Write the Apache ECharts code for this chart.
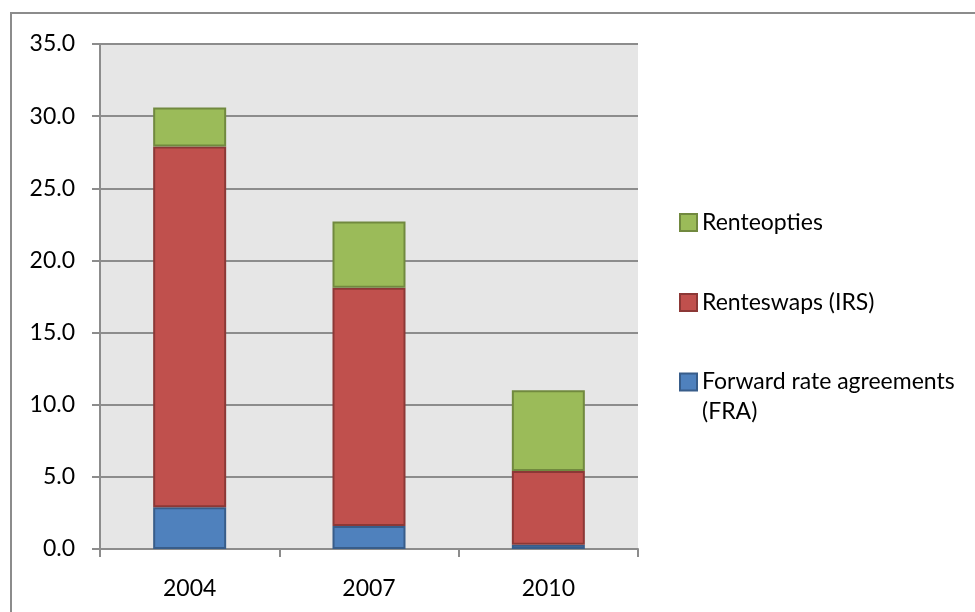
<!DOCTYPE html>
<html>
<head>
<meta charset="utf-8">
<script src="https://cdn.jsdelivr.net/npm/echarts@6/dist/echarts.min.js"></script>
<style>html,body{margin:0;padding:0;background:#fff}#c{width:975px;height:612px}</style>
</head>
<body>
<div id="c"></div>
<script>
const categories = ['2004', '2007', '2010'];
const fraValues = [2.9, 1.6, 0.3];
const irsValues = [25.0, 16.5, 5.1];
const optiesValues = [2.7, 4.6, 5.6];
const seriesNames = ['Forward rate agreements (FRA)', 'Renteswaps (IRS)', 'Renteopties'];
const yTicks = { min: 0, max: 35, interval: 5 };

const FONT = 'Lato';
const chart = echarts.init(document.getElementById('c'), null, { renderer: 'canvas' });
const legendText = { fontFamily: FONT, fontSize: 23, color: '#000' };
function legendItem(name, top, extra) {
  return Object.assign({
    orient: 'vertical', left: 674, top: top, itemWidth: 17, itemHeight: 17, itemGap: 4,
    icon: 'rect', selectedMode: false, data: [name],
    textStyle: Object.assign({}, legendText)
  }, extra || {});
}
const option = {
  animation: false,
  backgroundColor: '#fff',
  graphic: [{
    type: 'rect', silent: true, z: -1,
    shape: { x: 11, y: 13, width: 1100, height: 800 },
    style: { fill: 'none', stroke: '#8c8c8c', lineWidth: 2 }
  }],
  grid: { left: 100, right: 337, top: 44, bottom: 63, show: true, backgroundColor: '#e6e6e6', borderWidth: 0 },
  legend: [
    legendItem(seriesNames[2], 206),
    legendItem(seriesNames[1], 286),
    legendItem(seriesNames[0], 332, {
      formatter: function () { return ' \nForward rate agreements\n(FRA)'; },
      textStyle: Object.assign({}, legendText, { lineHeight: 30 })
    })
  ],
  xAxis: {
    type: 'category', data: categories,
    axisLine: { lineStyle: { color: '#8c8c8c', width: 2 } },
    axisTick: { show: true, length: 8, lineStyle: { color: '#8c8c8c', width: 2 } },
    axisLabel: { fontFamily: FONT, fontSize: 23, color: '#000', margin: 28 }
  },
  yAxis: {
    type: 'value', min: yTicks.min, max: yTicks.max, interval: yTicks.interval,
    axisLine: { show: true, lineStyle: { color: '#8c8c8c', width: 2 } },
    axisTick: { show: true, length: 8, lineStyle: { color: '#8c8c8c', width: 2 } },
    splitLine: { lineStyle: { color: '#8c8c8c', width: 2 } },
    axisLabel: { fontFamily: FONT, fontSize: 23, color: '#000', margin: 25, formatter: v => v.toFixed(1) }
  },
  series: [
    { name: seriesNames[0], type: 'bar', stack: 't', data: fraValues, barWidth: 73,
      itemStyle: { color: '#4f81bd', borderColor: '#385d8a', borderWidth: 2 } },
    { name: seriesNames[1], type: 'bar', stack: 't', data: irsValues, barWidth: 73,
      itemStyle: { color: '#c0504d', borderColor: '#8c3836', borderWidth: 2 } },
    { name: seriesNames[2], type: 'bar', stack: 't', data: optiesValues, barWidth: 73,
      itemStyle: { color: '#9bbb59', borderColor: '#71893f', borderWidth: 2 } }
  ]
};
chart.setOption(option);
</script>
</body>
</html>
